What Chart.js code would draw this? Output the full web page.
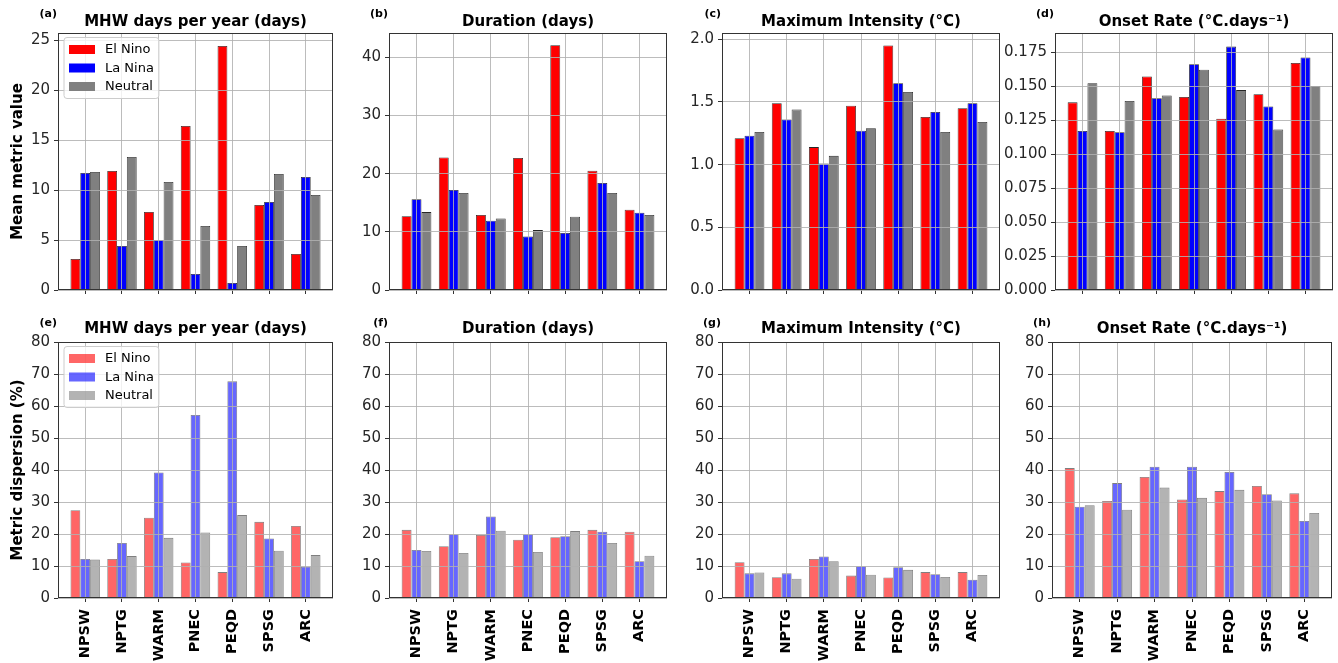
<!DOCTYPE html>
<html><head><meta charset="utf-8">
<script src="https://cdn.jsdelivr.net/npm/chart.js@4.4.1/dist/chart.umd.min.js"></script>
<style>
html,body{margin:0;padding:0;background:#fff;}
body{width:1338px;height:663px;overflow:hidden;position:relative;}
canvas{position:absolute;}
</style></head><body>
<script>
// ---------------- data ----------------
const categories = ['NPSW', 'NPTG', 'WARM', 'PNEC', 'PEQD', 'SPSG', 'ARC'];
const seriesLabels = ['El Nino', 'La Nina', 'Neutral'];

// (a) mean MHW days per year
const meanDaysElNino  = [3.1, 11.9, 7.8, 16.4, 24.4, 8.5, 3.6];
const meanDaysLaNina  = [11.7, 4.4, 5.0, 1.6, 0.7, 8.8, 11.3];
const meanDaysNeutral = [11.8, 13.3, 10.8, 6.4, 4.4, 11.6, 9.5];
// (b) mean duration
const meanDurElNino  = [12.7, 22.8, 12.9, 22.7, 42.1, 20.5, 13.8];
const meanDurLaNina  = [15.6, 17.2, 11.9, 9.2, 9.8, 18.4, 13.3];
const meanDurNeutral = [13.4, 16.7, 12.3, 10.3, 12.6, 16.7, 12.9];
// (c) mean maximum intensity
const meanIntElNino  = [1.21, 1.49, 1.14, 1.47, 1.95, 1.38, 1.45];
const meanIntLaNina  = [1.23, 1.36, 1.01, 1.27, 1.65, 1.42, 1.49];
const meanIntNeutral = [1.26, 1.44, 1.07, 1.29, 1.58, 1.26, 1.34];
// (d) mean onset rate
const meanOnsetElNino  = [0.138, 0.117, 0.157, 0.142, 0.126, 0.144, 0.167];
const meanOnsetLaNina  = [0.117, 0.116, 0.141, 0.166, 0.179, 0.135, 0.171];
const meanOnsetNeutral = [0.152, 0.139, 0.143, 0.162, 0.147, 0.118, 0.150];
// (e) dispersion MHW days
const dispDaysElNino  = [27.4, 12.2, 25.1, 11.1, 8.1, 23.8, 22.5];
const dispDaysLaNina  = [12.2, 17.2, 39.2, 57.2, 67.7, 18.6, 9.8];
const dispDaysNeutral = [12.0, 13.1, 18.8, 20.5, 25.9, 14.8, 13.4];
// (f) dispersion duration
const dispDurElNino  = [21.3, 16.2, 19.7, 18.2, 19.0, 21.3, 20.7];
const dispDurLaNina  = [15.0, 19.9, 25.5, 19.9, 19.3, 20.7, 11.5];
const dispDurNeutral = [14.7, 14.1, 21.0, 14.4, 20.9, 17.2, 13.2];
// (g) dispersion maximum intensity
const dispIntElNino  = [11.2, 6.5, 12.2, 7.0, 6.4, 8.1, 8.1];
const dispIntLaNina  = [7.7, 7.7, 13.0, 9.9, 9.6, 7.4, 5.7];
const dispIntNeutral = [8.0, 6.0, 11.5, 7.3, 8.8, 6.6, 7.2];
// (h) dispersion onset rate
const dispOnsetElNino  = [40.6, 30.3, 37.8, 30.8, 33.4, 35.0, 32.7];
const dispOnsetLaNina  = [28.5, 35.9, 41.0, 41.0, 39.4, 32.4, 24.1];
const dispOnsetNeutral = [29.0, 27.6, 34.5, 31.3, 33.8, 30.5, 26.6];

// tick values
const ticksDays  = [0, 5, 10, 15, 20, 25];
const ticksDur   = [0, 10, 20, 30, 40];
const ticksInt   = [0, 0.5, 1.0, 1.5, 2.0];
const ticksOnset = [0, 0.025, 0.05, 0.075, 0.1, 0.125, 0.15, 0.175];
const ticksDisp  = [0, 10, 20, 30, 40, 50, 60, 70, 80];

const titles = ['MHW days per year (days)', 'Duration (days)', 'Maximum Intensity (\u00B0C)', 'Onset Rate (\u00B0C.days\u207B\u00B9)'];

// ---------------- layout / style ----------------
const FONT = "'DejaVu Sans', sans-serif";
const plotLeft  = [[58, 389, 722, 1055], [58, 389, 722, 1052]];
const plotRight = [[333, 667, 1000, 1333], [333, 667, 1000, 1332]];
const rowTop = [0, 300], rowHeight = [306, 363];
const xAxisH = [16, 65];
const titlePad = [{top: 15, bottom: 3}, {top: 21.5, bottom: 5.5}];
const letterY = [14.5, 23.5];
const fills = [['#ff0000', '#0000ff', '#808080'],
               ['rgba(255,0,0,0.6)', 'rgba(0,0,255,0.6)', 'rgba(128,128,128,0.6)']];
const edges = ['rgba(0,0,0,0.85)', 'rgba(0,0,0,0.5)'];
const YW = 58;

const panels = [
  {letter: 'a', row: 0, col: 0, series: [meanDaysElNino, meanDaysLaNina, meanDaysNeutral], ticks: ticksDays, max: 25.7, dec: 0, yTitle: 'Mean metric value', legend: true},
  {letter: 'b', row: 0, col: 1, series: [meanDurElNino, meanDurLaNina, meanDurNeutral], ticks: ticksDur, max: 44.2, dec: 0},
  {letter: 'c', row: 0, col: 2, series: [meanIntElNino, meanIntLaNina, meanIntNeutral], ticks: ticksInt, max: 2.05, dec: 1},
  {letter: 'd', row: 0, col: 3, series: [meanOnsetElNino, meanOnsetLaNina, meanOnsetNeutral], ticks: ticksOnset, max: 0.189, dec: 3},
  {letter: 'e', row: 1, col: 0, series: [dispDaysElNino, dispDaysLaNina, dispDaysNeutral], ticks: ticksDisp, max: 80, dec: 0, yTitle: 'Metric dispersion (%)', legend: true},
  {letter: 'f', row: 1, col: 1, series: [dispDurElNino, dispDurLaNina, dispDurNeutral], ticks: ticksDisp, max: 80, dec: 0},
  {letter: 'g', row: 1, col: 2, series: [dispIntElNino, dispIntLaNina, dispIntNeutral], ticks: ticksDisp, max: 80, dec: 0},
  {letter: 'h', row: 1, col: 3, series: [dispOnsetElNino, dispOnsetLaNina, dispOnsetNeutral], ticks: ticksDisp, max: 80, dec: 0}
];

function roundRect(ctx, x, y, w, h, r) {
  ctx.beginPath();
  ctx.moveTo(x + r, y); ctx.lineTo(x + w - r, y); ctx.arcTo(x + w, y, x + w, y + r, r);
  ctx.lineTo(x + w, y + h - r); ctx.arcTo(x + w, y + h, x + w - r, y + h, r);
  ctx.lineTo(x + r, y + h); ctx.arcTo(x, y + h, x, y + h - r, r);
  ctx.lineTo(x, y + r); ctx.arcTo(x, y, x + r, y, r); ctx.closePath();
}

const framePlugin = {
  id: 'frame',
  afterDraw(chart, args, opts) {
    const ctx = chart.ctx;
    const {left, top, right, bottom} = chart.chartArea;
    ctx.save();
    if (opts.legend) {
      ctx.font = '13px ' + FONT;
      const maxW = Math.max(...chart.data.datasets.map(d => ctx.measureText(d.label).width));
      const fx = left + 6, fy = top + 4.5, fw = 41 + maxW + 5, fh = 61;
      roundRect(ctx, fx, fy, fw, fh, 3);
      ctx.fillStyle = 'rgba(255,255,255,0.8)'; ctx.fill();
      ctx.strokeStyle = '#cccccc'; ctx.lineWidth = 1; ctx.stroke();
      chart.data.datasets.forEach((ds, i) => {
        const cy = fy + 12 + i * 18.5;
        ctx.fillStyle = ds.backgroundColor;
        ctx.fillRect(fx + 5, cy - 4.5, 26, 9);
        ctx.fillStyle = '#000'; ctx.textAlign = 'left'; ctx.textBaseline = 'middle';
        ctx.fillText(ds.label, fx + 41, cy + 0.5);
      });
    }
    ctx.strokeStyle = '#333'; ctx.lineWidth = 1;
    ctx.strokeRect(Math.round(left) + 0.5, Math.round(top) + 0.5, Math.round(right - left) - 1, Math.round(bottom - top) - 1);
    ctx.font = 'bold 11px ' + FONT; ctx.fillStyle = '#000';
    ctx.textAlign = 'right'; ctx.textBaseline = 'middle';
    ctx.fillText('(' + opts.letter + ')', left - 1, opts.letterY);
    ctx.restore();
  }
};

panels.forEach(p => {
  const r = p.row, c = p.col;
  const cv = document.createElement('canvas');
  const cl = plotLeft[r][c] - YW;
  const cw = plotRight[r][c] - plotLeft[r][c] + YW + 4;
  cv.width = cw; cv.height = rowHeight[r];
  cv.style.left = cl + 'px'; cv.style.top = rowTop[r] + 'px';
  cv.style.width = cw + 'px'; cv.style.height = rowHeight[r] + 'px';
  document.body.appendChild(cv);

  const gridOpts = {color: 'rgba(176,176,176,0.85)', lineWidth: 1, drawTicks: true, tickLength: 4,
                    tickColor: '#333', tickWidth: 1, offset: false, z: 1};

  new Chart(cv, {
    type: 'bar',
    data: {
      datasets: p.series.map((vals, k) => ({
        label: seriesLabels[k],
        data: vals.map((v, i) => ({x: i, y: v})),
        backgroundColor: fills[r][k],
        borderColor: edges[r],
        borderWidth: 0.8
      }))
    },
    options: {
      responsive: false, animation: false, devicePixelRatio: 1,
      layout: {padding: {left: 0, right: 4, top: 0, bottom: 0}},
      datasets: {bar: {categoryPercentage: 0.8, barPercentage: 1.0, grouped: true}},
      plugins: {
        legend: {display: false},
        tooltip: {enabled: false},
        title: {display: true, text: titles[c], fullSize: false, color: '#000',
                font: {family: FONT, size: 15, weight: 'bold', lineHeight: 1}, padding: titlePad[r]},
        frame: {letter: p.letter, letterY: letterY[r], legend: !!p.legend}
      },
      scales: {
        x: {
          type: 'linear', min: -0.74, max: 6.74, offset: false, z: 1,
          afterBuildTicks: s => { s.ticks = categories.map((_, i) => ({value: i})); },
          afterFit: s => { s.height = xAxisH[r]; },
          ticks: {display: r === 1, autoSkip: false, maxRotation: 90, minRotation: 90,
                  callback: v => categories[v], color: '#000', padding: 7,
                  font: {family: FONT, size: 14.5, weight: 'bold'}},
          grid: gridOpts,
          border: {display: false}
        },
        y: {
          min: 0, max: p.max, z: 1,
          afterBuildTicks: s => { s.ticks = p.ticks.map(v => ({value: v})); },
          afterFit: s => { s.width = YW; },
          ticks: {autoSkip: false, callback: v => Number(v).toFixed(p.dec), color: '#262626', padding: 4,
                  font: {family: FONT, size: 15}},
          grid: gridOpts,
          border: {display: false},
          title: {display: !!p.yTitle, text: p.yTitle || '', color: '#000',
                  font: {family: FONT, size: 15, weight: 'bold'}, padding: {top: 9, bottom: 0}}
        }
      }
    },
    plugins: [framePlugin]
  });
});
</script>
</body></html>
